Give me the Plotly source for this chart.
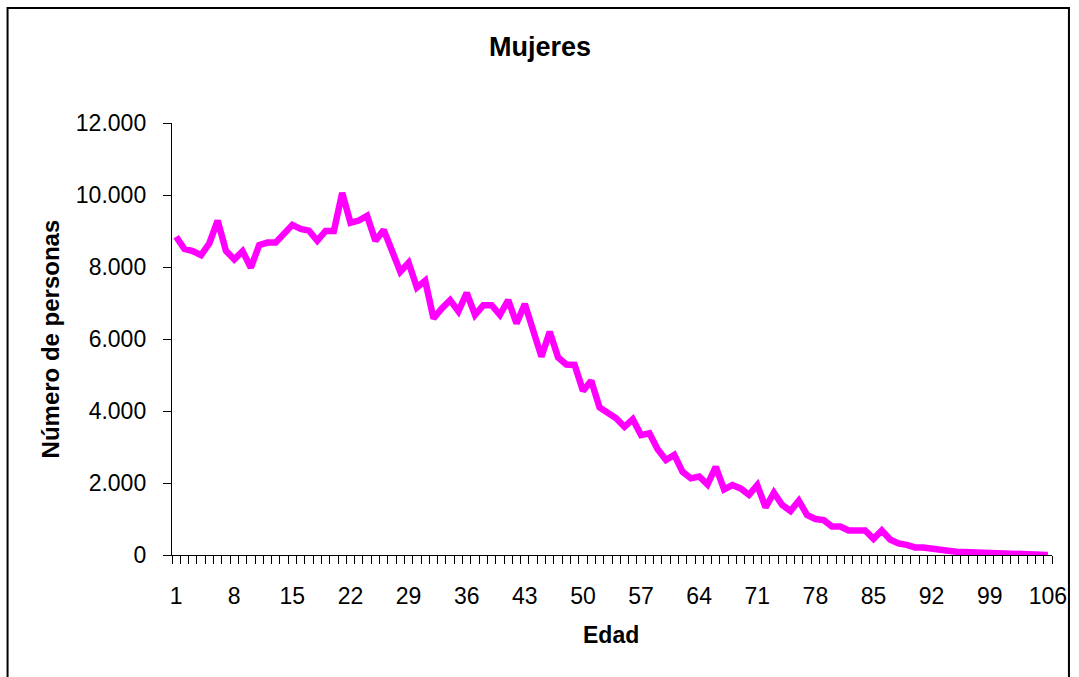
import plotly.graph_objects as go
import numpy as np

edades = list(range(1, 107))
mujeres = [
    8840, 8500, 8440, 8330, 8660, 9290, 8450, 8210, 8440, 7980,
    8610, 8680, 8680, 8940, 9170, 9060, 9010, 8730, 9000, 9000,
    10060, 9230, 9290, 9420, 8730, 9030, 8440, 7870, 8120, 7430,
    7620, 6570, 6850, 7080, 6770, 7280, 6670, 6940, 6940, 6670,
    7080, 6430, 6970, 6250, 5510, 6200, 5490, 5290, 5280, 4560,
    4840, 4100, 3940, 3800, 3560, 3770, 3330, 3380, 2940, 2640,
    2780, 2310, 2130, 2180, 1960, 2450, 1820, 1940, 1850, 1670,
    1940, 1320, 1730, 1390, 1220, 1510, 1110, 1000, 970, 790,
    790, 680, 680, 680, 450, 680, 430, 320, 280, 210,
    210, 170, 120, 120, 90, 80, 80, 70, 30, 20,
    10, 10, 5, 0, 0, 0,
]
x_ticks = [1, 8, 15, 22, 29, 36, 43, 50, 57, 64, 71, 78, 85, 92, 99, 106]
y_ticks = [0, 2000, 4000, 6000, 8000, 10000, 12000]
y_labels = ["0", "2.000", "4.000", "6.000", "8.000", "10.000", "12.000"]

W, H = 1079, 677
L, R, T, B = 172, 1055, 123, 555
pw, ph = R - L, B - T

def px(xp):
    return (xp - L) / pw

def py(yp):
    return (B - yp) / ph

fig = go.Figure()
fig.add_trace(go.Scatter(
    x=edades, y=mujeres, mode="lines",
    line=dict(color="#FF00FF", width=6.5),
    showlegend=False, hoverinfo="skip",
))

font = "Liberation Sans, Arial, sans-serif"

fig.update_layout(
    width=W, height=H,
    margin=dict(l=L, r=W - R, t=T, b=H - B, pad=0),
    paper_bgcolor="white", plot_bgcolor="white",
    font=dict(family=font, size=23, color="black"),
    title=dict(text="<b>Mujeres</b>", x=540 / W, xref="container", xanchor="center",
               y=1 - 47 / H, yref="container", yanchor="middle",
               font=dict(family=font, size=27, color="black")),
    xaxis=dict(
        range=[0.5, 106.5], showgrid=False, zeroline=False,
        showline=True, linecolor="black", linewidth=1.2,
        tickmode="array", tickvals=x_ticks, ticktext=[str(v) for v in x_ticks],
        ticks="outside", ticklen=20, tickcolor="rgba(0,0,0,0)",
        tickfont=dict(family=font, size=23, color="black"),
        minor=dict(tickmode="array", tickvals=list(np.arange(0.5, 107, 1.0)),
                   ticks="outside", ticklen=8, tickcolor="black", tickwidth=1,
                   showgrid=False),
    ),
    yaxis=dict(
        range=[0, 12000], showgrid=False, zeroline=False,
        showline=True, linecolor="black", linewidth=1.2,
        tickmode="array", tickvals=y_ticks, ticktext=y_labels,
        ticks="outside", ticklen=8, tickcolor="black", tickwidth=1,
        ticklabelstandoff=12,
        tickfont=dict(family=font, size=23, color="black"),
    ),
    annotations=[
        dict(text="<b>Edad</b>", x=px(612), y=py(635), xref="paper", yref="paper",
             showarrow=False, xanchor="center", yanchor="middle",
             font=dict(family=font, size=23, color="black")),
        dict(text="<b>Número de personas</b>", x=px(50), y=py(339), xref="paper", yref="paper",
             showarrow=False, xanchor="center", yanchor="middle", textangle=-90,
             font=dict(family=font, size=24, color="black")),
    ],
    shapes=[
        dict(type="rect", xref="paper", yref="paper",
             x0=px(7), x1=px(1072), y0=py(720), y1=py(8),
             line=dict(color="black", width=2), fillcolor="rgba(0,0,0,0)", layer="above"),
    ],
)

fig.write_html(
    "out.html",
    config={"displayModeBar": False, "staticPlot": True},
    post_script="document.body.style.margin='0';document.body.style.overflow='hidden';",
)
